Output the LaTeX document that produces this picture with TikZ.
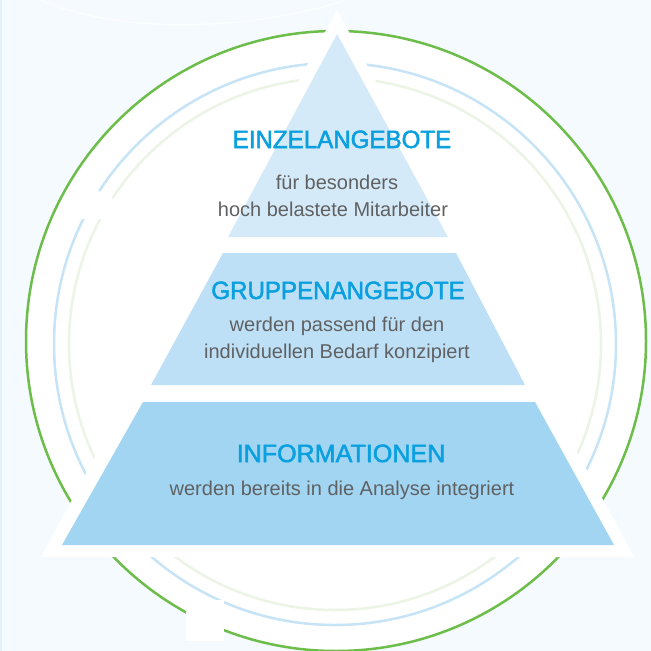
\documentclass[tikz,border=0pt]{standalone}
\usepackage{fontspec}
\setmainfont{Liberation Sans}
\newfontfamily\tiertitlefont{Liberation Sans}[FakeBold=2, FakeStretch=0.965]
\definecolor{bg}{HTML}{F5FAFE}
\definecolor{edgeblue}{HTML}{E2F0FA}
\definecolor{ringgreen}{HTML}{6CBD4A}
\definecolor{ringblue}{HTML}{C6E4F6}
\definecolor{ringpale}{HTML}{EBF4E5}
\definecolor{tiertop}{HTML}{D5EAF8}
\definecolor{tiermid}{HTML}{BEE0F6}
\definecolor{tierbot}{HTML}{A1D5F2}
\definecolor{titleblue}{HTML}{0AA0E0}
\definecolor{bodygray}{HTML}{606163}
\begin{document}
\begin{tikzpicture}[x=1pt,y=-1pt,
  tiertitle/.style={text=titleblue, font=\tiertitlefont\fontsize{25}{25}\selectfont, anchor=base, inner sep=0pt},
  tierbody/.style={text=bodygray, font=\fontsize{20}{20}\selectfont, anchor=base, inner sep=0pt}]
\useasboundingbox (0,0) rectangle (651,651);
\clip (0,0) rectangle (651,651);
\fill[bg] (0,0) rectangle (651,651);
\draw[white, opacity=0.7, line width=1.5] (41,0) .. controls (120,35) and (250,30) .. (340,2);
\draw[edgeblue, line width=1.5] (0.75,0) -- (0.75,651);
\fill[white, draw=ringgreen, line width=2.5] (336,341) circle (310);
\draw[ringblue, line width=2.5] (335,344) circle (281);
\draw[ringpale, line width=2.5] (335,344) circle (266);
\fill[white] (95,189) -- (118,201) -- (118,219) -- (78,219) -- cycle;
\fill[white] (186,600) rectangle (224,641);
\fill[white] (337,10) -- (634,557) -- (41,557) -- cycle;
\fill[tiertop] (337,34) -- (448,237) -- (228,237) -- cycle;
\fill[tiermid] (223,253) -- (456,253) -- (525,385) -- (151,385) -- cycle;
\fill[tierbot] (143,402) -- (535,402) -- (614,545) -- (62,545) -- cycle;
\node[tiertitle] (t1) at (342,148) {EINZELANGEBOTE};
\node[tierbody] (b1a) at (337,189) {für besonders};
\node[tierbody] (b1b) at (333,216) {hoch belastete Mitarbeiter};
\node[tiertitle] (t2) at (338,299) {GRUPPENANGEBOTE};
\node[tierbody] (b2a) at (337,331) {werden passend für den};
\node[tierbody] (b2b) at (337,358) {individuellen Bedarf konzipiert};
\node[tiertitle] (t3) at (341,462) {\scalebox{1.04}[1]{INFORMATIONEN}};
\node[tierbody] (b3) at (342,495) {werden bereits in die Analyse integriert};
\end{tikzpicture}
\end{document}
